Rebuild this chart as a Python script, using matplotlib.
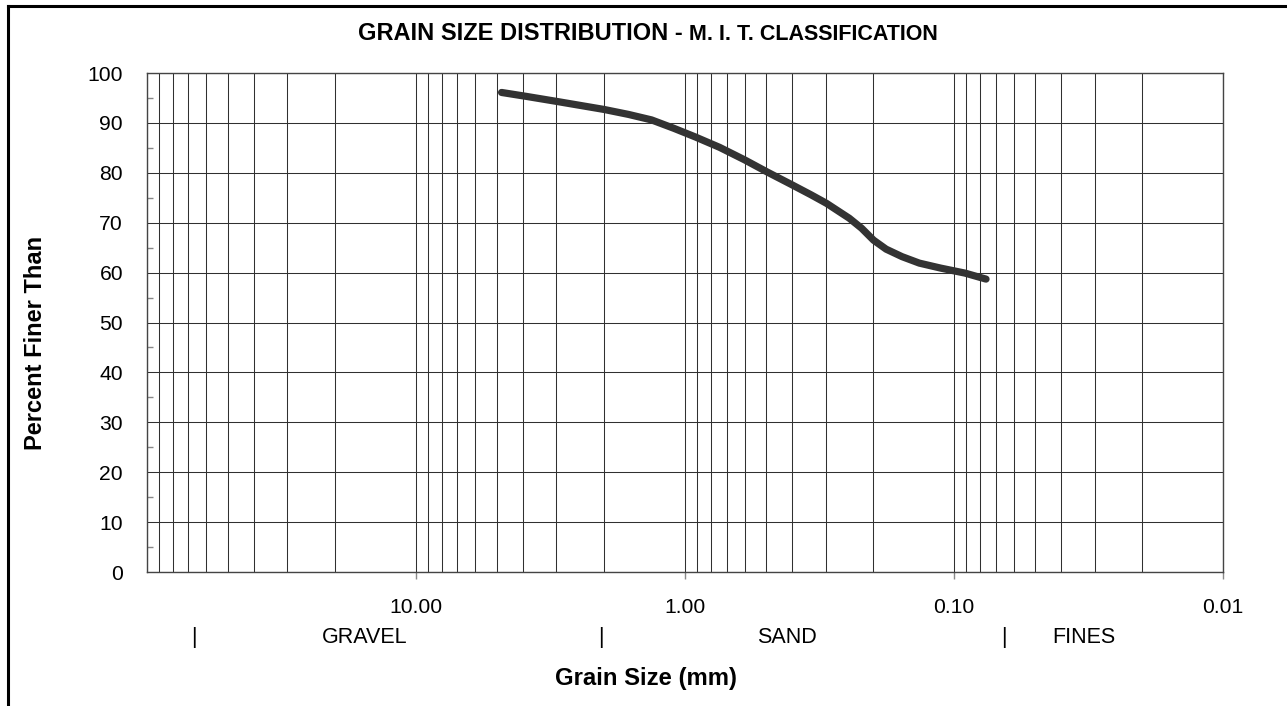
import matplotlib
matplotlib.use("Agg")
import matplotlib.pyplot as plt
from matplotlib.lines import Line2D
from matplotlib.ticker import FixedLocator, NullFormatter, NullLocator

plt.rcParams['font.family'] = ['Liberation Sans', 'DejaVu Sans']

# grain size (mm) and percent finer
grain_mm = [4.80, 3.87, 2.99, 2.00, 1.62, 1.33, 1.097, 0.916, 0.743,
            0.60, 0.496, 0.40, 0.340, 0.298, 0.245, 0.2205, 0.199,
            0.1787, 0.156, 0.1345, 0.112, 0.091, 0.076]
pct_finer = [96.1, 95.3, 94.3, 92.7, 91.7, 90.6, 88.9, 87.2, 85.1,
             82.6, 80.2, 77.6, 75.6, 73.9, 70.9, 68.9, 66.5,
             64.7, 63.2, 61.9, 60.9, 59.9, 58.7]

x_ticks = [10, 1, 0.1, 0.01]
x_tick_labels = ["10.00", "1.00", "0.10", "0.01"]
y_ticks = list(range(0, 101, 10))

# M.I.T. classes along the bottom
class_names = ["GRAVEL", "SAND", "FINES"]
class_name_x = [15.5, 0.419, 0.0328]
class_bounds = [67.0, 2.05, 0.0655]

fig = plt.figure(figsize=(12.87, 7.06), dpi=100)
ax = fig.add_axes([0.1140, 0.1898, 0.8363, 0.7068])

ax.set_xscale('log')
ax.set_xlim(100, 0.01)
ax.set_ylim(0, 100)

grid_c = '#303030'
major_x = [100, 10, 1, 0.1, 0.01]
minor_x = [m * d for d in [10, 1, 0.1, 0.01] for m in range(2, 10)]
for v in major_x + minor_x:
    ax.axvline(v, color=grid_c, lw=0.75, zorder=1)
for v in y_ticks:
    ax.axhline(v, color=grid_c, lw=0.75, zorder=1)

ax.plot(grain_mm, pct_finer, color='#333333', lw=5.2,
        solid_capstyle='round', solid_joinstyle='round', zorder=3)

ax.xaxis.set_major_locator(FixedLocator(x_ticks))
ax.set_xticklabels(x_tick_labels)
ax.xaxis.set_minor_locator(NullLocator())
ax.xaxis.set_minor_formatter(NullFormatter())
ax.tick_params(axis='x', which='major', direction='out', length=5,
               color='#888888', width=1, pad=14, labelsize=15.2)

ax.set_yticks(y_ticks)
ax.set_yticks(list(range(5, 100, 10)), minor=True)
ax.tick_params(axis='y', which='major', length=0, pad=17, labelsize=15.2)
ax.tick_params(axis='y', which='minor', direction='in', length=4,
               color='#888888', width=1)

for s in ax.spines.values():
    s.set_color('#444444')
    s.set_linewidth(1.0)

ax.set_ylabel("Percent Finer Than", fontsize=17, fontweight='bold')
ax.yaxis.set_label_coords(-0.0926, 0.46)
ax.set_xlabel("Grain Size (mm)", fontsize=17.2, fontweight='bold',
              labelpad=0)
ax.xaxis.set_label_coords(0.464, -0.19)

tr = ax.get_xaxis_transform()
for name, xv in zip(class_names, class_name_x):
    ax.text(xv, -0.131, name, transform=tr, ha='center', va='center',
            fontsize=15.5)
for xv in class_bounds:
    ax.text(xv, -0.131, "|", transform=tr, ha='center', va='center',
            fontsize=15.5)

# title in two sizes
t1 = fig.text(358 / 1287, 1 - 34 / 706, "GRAIN SIZE DISTRIBUTION - ",
              fontsize=17.0, fontweight='bold', ha='left', va='center')
fig.canvas.draw()
bb = t1.get_window_extent()
fig.text(bb.x1 / fig.bbox.width, 1 - 35 / 706, "M. I. T. CLASSIFICATION",
         fontsize=15.5, fontweight='bold', ha='left', va='center')

# outer frame (top and left edges)
fig.add_artist(Line2D([8 / 1287, 1], [1 - 6 / 706, 1 - 6 / 706],
                      transform=fig.transFigure, color='black', lw=2.2))
fig.add_artist(Line2D([8 / 1287, 8 / 1287], [0, 1 - 6 / 706],
                      transform=fig.transFigure, color='black', lw=2.2))

fig.savefig("out.png", dpi=100)
